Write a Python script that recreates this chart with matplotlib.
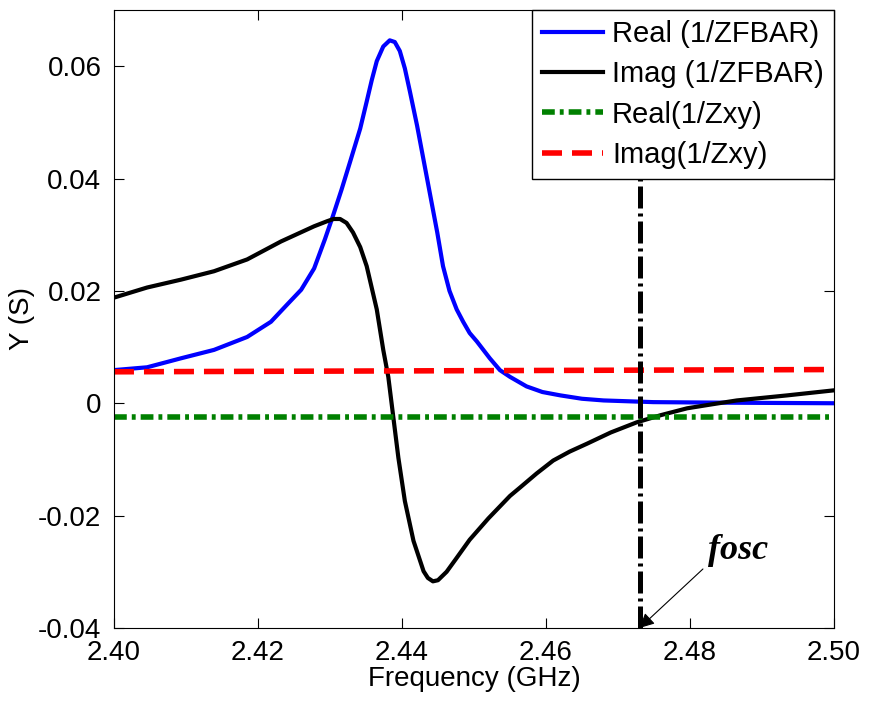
import matplotlib
matplotlib.use('Agg')
import matplotlib.pyplot as plt
import numpy as np

# Real(1/ZFBAR)
f_real = [2.4000, 2.4046, 2.4093, 2.4139, 2.4185, 2.4218, 2.4240, 2.4260, 2.4278,
          2.4293, 2.4304, 2.4316, 2.4328, 2.4342, 2.4351, 2.4358, 2.4365, 2.4374,
          2.4383, 2.4390, 2.4397, 2.4404, 2.4411, 2.4421, 2.4435, 2.4449, 2.4457,
          2.4466, 2.4476, 2.4485, 2.4494, 2.4504, 2.4522, 2.4536, 2.4550, 2.4573,
          2.4595, 2.4620, 2.4650, 2.4680, 2.4749, 2.4850, 2.5000]
y_real = [0.0059, 0.0064, 0.0080, 0.0095, 0.0118, 0.0145, 0.0175, 0.0202, 0.0240,
          0.0292, 0.0333, 0.0380, 0.0430, 0.0489, 0.0537, 0.0575, 0.0609, 0.0635,
          0.0646, 0.0643, 0.0627, 0.0596, 0.0555, 0.0494, 0.0399, 0.0304, 0.0244,
          0.0200, 0.0167, 0.0145, 0.0125, 0.0110, 0.0080, 0.0059, 0.0047, 0.0030,
          0.0020, 0.0014, 0.0008, 0.0005, 0.0002, 0.0001, 0.0000]

# Imag(1/ZFBAR)
f_imag = [2.4000, 2.4046, 2.4093, 2.4139, 2.4185, 2.4232, 2.4278, 2.4296, 2.4305,
          2.4314, 2.4323, 2.4332, 2.4342, 2.4351, 2.4365, 2.4374, 2.4381, 2.4388,
          2.4395, 2.4404, 2.4416, 2.4430, 2.4436, 2.4443, 2.4450, 2.4462, 2.4475,
          2.4494, 2.4520, 2.4550, 2.4564, 2.4587, 2.4610, 2.4633, 2.4657, 2.4690,
          2.4726, 2.4760, 2.4796, 2.4830, 2.4865, 2.4935, 2.5000]
y_imag = [0.0188, 0.0206, 0.0220, 0.0235, 0.0256, 0.0288, 0.0315, 0.0324, 0.0328,
          0.0328, 0.0321, 0.0304, 0.0278, 0.0244, 0.0167, 0.0095, 0.0047, -0.0025,
          -0.0097, -0.0174, -0.0245, -0.0299, -0.0311, -0.0317, -0.0315, -0.0300, -0.0277,
          -0.0243, -0.0205, -0.0165, -0.0150, -0.0125, -0.0102, -0.0086, -0.0072, -0.0052,
          -0.0034, -0.0021, -0.0009, -0.0002, 0.0005, 0.0014, 0.0023]

# 1/Zxy lines
f_xy = [2.40, 2.50]
real_xy = [-0.0025, -0.0025]
imag_xy = [0.0056, 0.0060]

f_osc = 2.473

plt.rcParams['font.family'] = ['Liberation Sans', 'DejaVu Sans']
fig = plt.figure(figsize=(8.7, 7.04), dpi=100)
ax = fig.add_axes([0.131, 0.108, 0.8276, 0.8778])

ax.plot(f_real, y_real, color='#0000ff', lw=3, label='Real (1/ZFBAR)')
ax.plot(f_imag, y_imag, color='black', lw=3, label='Imag (1/ZFBAR)')
ax.plot(f_xy, real_xy, color='#008000', lw=4, dashes=(2.3, 0.9, 0.7, 0.9), label='Real(1/Zxy)')
ax.plot(f_xy, imag_xy, color='#ff0000', lw=4, dashes=(3.6, 1.8), label='Imag(1/Zxy)')
ax.axvline(f_osc, color='black', lw=3.6, dashes=(4.4, 1.0, 0.6, 1.0))

ax.text(2.4867, -0.0262, 'fosc', ha='center', va='center', fontsize=26,
        fontweight='bold', fontstyle='italic', family='Liberation Serif')
ax.annotate('', xy=(f_osc, -0.0400), xytext=(2.4818, -0.0295), annotation_clip=False,
            arrowprops=dict(arrowstyle='-|>', color='black', lw=0.8,
                            mutation_scale=22, shrinkA=0, shrinkB=0))

ax.set_xlim(2.40, 2.50)
ax.set_ylim(-0.04, 0.07)
ax.set_xticks([2.40, 2.42, 2.44, 2.46, 2.48, 2.50])
ax.set_xticklabels(['2.40', '2.42', '2.44', '2.46', '2.48', '2.50'])
ax.set_yticks([-0.04, -0.02, 0, 0.02, 0.04, 0.06])
ax.set_yticklabels(['-0.04', '-0.02', '0', '0.02', '0.04', '0.06'])
ax.tick_params(direction='in', top=True, right=True, labelsize=20, length=7, pad=9)
ax.set_xlabel('Frequency (GHz)', fontsize=20, labelpad=0)
ax.set_ylabel('Y (S)', fontsize=20, labelpad=2)

leg = ax.legend(loc='upper right', fontsize=21, frameon=True, fancybox=False,
                borderaxespad=0, handlelength=2.1, labelspacing=0.42,
                handletextpad=0.3, borderpad=0.35)
leg.get_frame().set_edgecolor('black')
leg.get_frame().set_linewidth(1.0)
leg.get_frame().set_alpha(1)

fig.savefig('out.png', dpi=100)
